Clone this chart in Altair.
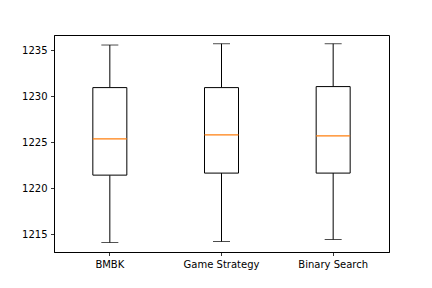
import altair as alt
import pandas as pd

methods = ["BMBK", "Game Strategy", "Binary Search"]
whisker_low = [1214.09, 1214.20, 1214.42]
q1 = [1221.42, 1221.64, 1221.64]
median = [1225.36, 1225.80, 1225.69]
q3 = [1230.94, 1230.94, 1231.05]
whisker_high = [1235.57, 1235.71, 1235.71]
y_ticks = [1215, 1220, 1225, 1230, 1235]

df = pd.DataFrame({"method": methods, "lo": whisker_low, "q1": q1,
                   "med": median, "q3": q3, "hi": whisker_high})

FONT = "DejaVu Sans"

xenc = alt.X("method:N", sort=methods, title=None,
             scale=alt.Scale(paddingInner=0, paddingOuter=0),
             axis=alt.Axis(labelAngle=0, tickSize=3.5, labelPadding=3.5,
                           tickColor="black", labelColor="black",
                           labelFont=FONT, labelFontSize=10,
                           domain=True, domainColor="black", domainWidth=1,
                           tickWidth=0.8))
yscale = alt.Scale(domain=[1213.06, 1236.66], nice=False, zero=False)
yaxis = alt.Axis(values=y_ticks, format="d", grid=False, tickSize=3.5,
                 labelPadding=3.5, tickColor="black", labelColor="black",
                 labelFont=FONT, labelFontSize=10,
                 domain=True, domainColor="black", domainWidth=1,
                 tickWidth=0.8)

base = alt.Chart(df)

whisk_low = base.mark_rule(color="black", strokeWidth=1).encode(
    x=xenc, y=alt.Y("lo:Q", scale=yscale, axis=yaxis, title=None), y2="q1:Q")
whisk_high = base.mark_rule(color="black", strokeWidth=1).encode(
    x=xenc, y=alt.Y("q3:Q", scale=yscale, axis=yaxis, title=None), y2="hi:Q")
box = base.mark_bar(fill="white", stroke="black", strokeWidth=1, size=34).encode(
    x=xenc, y=alt.Y("q1:Q", scale=yscale, axis=yaxis, title=None), y2="q3:Q")
cap_lo = base.mark_tick(color="black", thickness=1, size=17, orient="horizontal").encode(
    x=xenc, y=alt.Y("lo:Q", scale=yscale, axis=yaxis, title=None))
cap_hi = base.mark_tick(color="black", thickness=1, size=17, orient="horizontal").encode(
    x=xenc, y=alt.Y("hi:Q", scale=yscale, axis=yaxis, title=None))
med = base.mark_tick(color="#ff7f0e", thickness=1.2, size=34, orient="horizontal", opacity=1).encode(
    x=xenc, y=alt.Y("med:Q", scale=yscale, axis=yaxis, title=None))

chart = alt.layer(whisk_low, whisk_high, box, cap_lo, cap_hi, med).properties(
    width=335, height=217,
    view=alt.ViewBackground(stroke="black", strokeWidth=1, strokeOpacity=1),
    autosize=alt.AutoSizeParams(type="none"),
    padding={"left": 46, "top": 27, "right": 30, "bottom": 25},
).configure(background="white")

chart.save("out.html", embed_options={"renderer": "svg", "actions": False})
